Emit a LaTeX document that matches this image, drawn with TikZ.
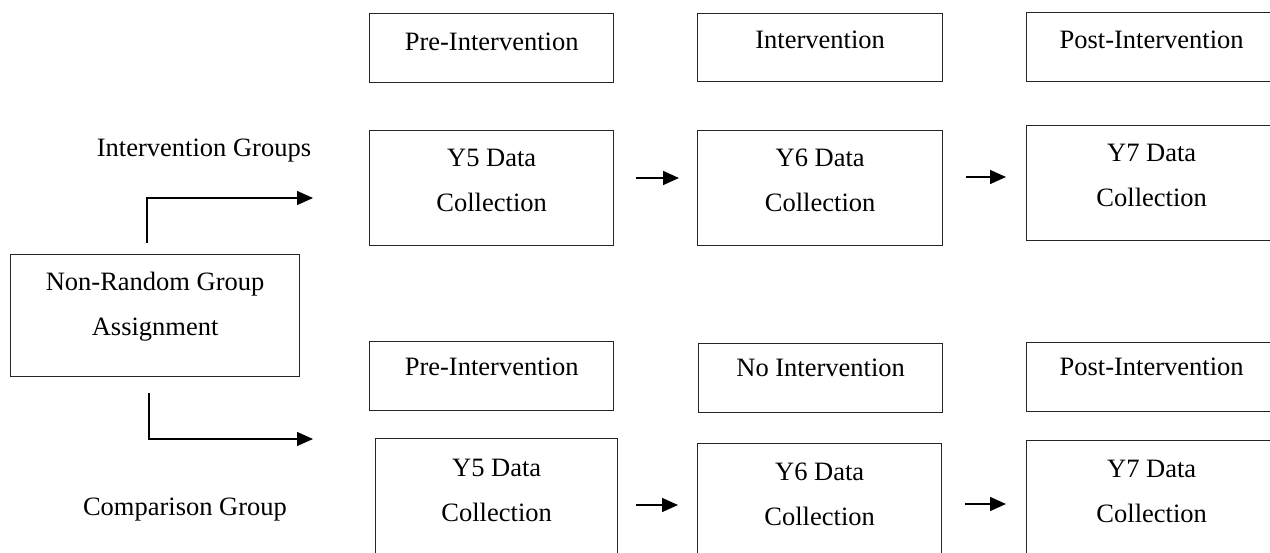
\documentclass[tikz,border=0pt]{standalone}
\usepackage{fontspec}
\setmainfont{Liberation Serif}
\usetikzlibrary{arrows.meta,calc}
\tikzset{
  box/.style={draw=black!85, line width=1.3pt, inner sep=0pt, anchor=north west},
  txt/.style={font=\fontsize{26.5pt}{45pt}\selectfont, inner sep=0pt, anchor=base, align=center},
  arr/.style={line width=1.5pt, -{Triangle[length=16pt,width=14pt]}},
  elb/.style={line width=1.3pt, -{Triangle[length=16pt,width=14pt]}}
}
\begin{document}
\begin{tikzpicture}[x=1pt,y=-1pt]
\clip (0,0) rectangle (1270,553);
\fill[white] (0,0) rectangle (1270,553);
% top phase row (intervention)
\node[box, minimum width=244pt, minimum height=69pt] (pa) at (369,13) {};
\node[box, minimum width=245pt, minimum height=68pt] (pb) at (697,13) {};
\node[box, minimum width=250pt, minimum height=69pt] (pc) at (1026,12) {};
\node[txt] (pat) at ($(pa.north)+(0,38)$) {Pre-Intervention};
\node[txt] (pbt) at ($(pb.north)+(0,36)$) {Intervention};
\node[txt] (pct) at ($(pc.north)+(0,37)$) {Post-Intervention};
% intervention data row
\node[box, minimum width=244pt, minimum height=115pt] (ya) at (369,130) {};
\node[box, minimum width=245pt, minimum height=115pt] (yb) at (697,130) {};
\node[box, minimum width=250pt, minimum height=115pt] (yc) at (1026,125) {};
\node[txt] (yat) at ($(ya.north)+(0,82)$) {Y5 Data\\Collection};
\node[txt] (ybt) at ($(yb.north)+(0,82)$) {Y6 Data\\Collection};
\node[txt] (yct) at ($(yc.north)+(0,82)$) {Y7 Data\\Collection};
\node[txt] (ig) at (204,157) {Intervention Groups};
% assignment
\node[box, minimum width=289pt, minimum height=122pt] (nr) at (10,254) {};
\node[txt] (nrt) at ($(nr.north)+(0,82)$) {Non-Random Group\\Assignment};
% comparison phase row
\node[box, minimum width=244pt, minimum height=69pt] (qa) at (369,341) {};
\node[box, minimum width=244pt, minimum height=69pt] (qb) at (698,343) {};
\node[box, minimum width=250pt, minimum height=69pt] (qc) at (1026,342) {};
\node[txt] (qat) at ($(qa.north)+(0,35)$) {Pre-Intervention};
\node[txt] (qbt) at ($(qb.north)+(0,34)$) {No Intervention};
\node[txt] (qct) at ($(qc.north)+(0,34)$) {Post-Intervention};
% comparison data row
\node[box, minimum width=242pt, minimum height=130pt] (za) at (375,438) {};
\node[box, minimum width=244pt, minimum height=130pt] (zb) at (697,443) {};
\node[box, minimum width=250pt, minimum height=130pt] (zc) at (1026,440) {};
\node[txt] (zat) at ($(za.north)+(0,83)$) {Y5 Data\\Collection};
\node[txt] (zbt) at ($(zb.north)+(0,82)$) {Y6 Data\\Collection};
\node[txt] (zct) at ($(zc.north)+(0,82)$) {Y7 Data\\Collection};
\node[txt] (cg) at (185,515) {Comparison Group};
% elbow connectors
\coordinate (e1s) at (147,243);
\coordinate (e1m) at (147,198);
\coordinate (e1e) at (313,198);
\coordinate (e2s) at (149,393);
\coordinate (e2m) at (149,439);
\coordinate (e2e) at (313,439);
\draw[elb] (e1s) -- (e1m) -- (e1e);
\draw[elb] (e2s) -- (e2m) -- (e2e);
% step arrows
\coordinate (a1s) at (636,178); \coordinate (a1e) at (679,178);
\coordinate (a2s) at (966,177); \coordinate (a2e) at (1006,177);
\coordinate (a3s) at (636,505); \coordinate (a3e) at (678,505);
\coordinate (a4s) at (965,504); \coordinate (a4e) at (1006,504);
\draw[arr] (a1s) -- (a1e);
\draw[arr] (a2s) -- (a2e);
\draw[arr] (a3s) -- (a3e);
\draw[arr] (a4s) -- (a4e);
\end{tikzpicture}
\end{document}
